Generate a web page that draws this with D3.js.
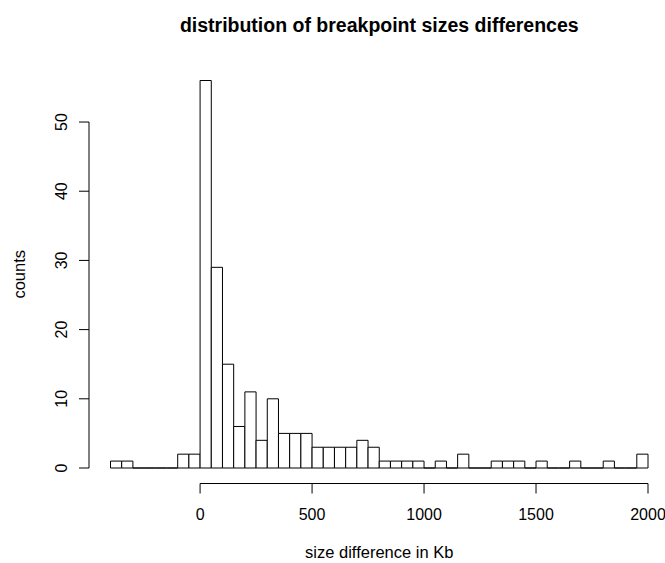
<!DOCTYPE html>
<html>
<head>
<meta charset="utf-8">
<script src="https://cdn.jsdelivr.net/npm/d3@7"></script>
<style>
  html, body { margin: 0; padding: 0; background: #fff; }
  svg text { font-family: "Liberation Sans", Arial, Helvetica, sans-serif; fill: #000; }
</style>
</head>
<body>
<svg id="chart" width="665" height="563"></svg>
<script>
// Histogram of breakpoint size differences (Kb), R-style base graphics look.

// bin edges (Kb), 50 Kb wide
const breaks = [
  -400, -350, -300, -250, -200, -150, -100, -50,
  0, 50, 100, 150, 200, 250, 300, 350, 400, 450,
  500, 550, 600, 650, 700, 750, 800, 850, 900, 950,
  1000, 1050, 1100, 1150, 1200, 1250, 1300, 1350, 1400, 1450,
  1500, 1550, 1600, 1650, 1700, 1750, 1800, 1850, 1900, 1950, 2000
];
// counts per bin
const counts = [
  1, 1, 0, 0, 0, 0, 2, 2,
  56, 29, 15, 6, 11, 4, 10, 5, 5, 5,
  3, 3, 3, 3, 4, 3, 1, 1, 1, 1,
  0, 1, 0, 2, 0, 0, 1, 1, 1, 0,
  1, 0, 0, 1, 0, 0, 1, 0, 0, 2
];
const xTicks = [0, 500, 1000, 1500, 2000];
const yTicks = [0, 10, 20, 30, 40, 50];

const titleText = 'distribution of breakpoint sizes differences';
const xLabel = 'size difference in Kb';
const yLabel = 'counts';

// plot region (runs slightly past the right edge, like the reference)
const PLOT = { left: 89, right: 669.5, top: 65, bottom: 483.5 };

const svg = d3.select('#chart');

// R's default 4% axis expansion
const xMin = d3.min(breaks), xMax = d3.max(breaks);
const xPad = (xMax - xMin) * 0.04;
const yMaxData = d3.max(counts);
const yPad = yMaxData * 0.04;

const x = d3.scaleLinear()
  .domain([xMin - xPad, xMax + xPad])
  .range([PLOT.left, PLOT.right]);
const y = d3.scaleLinear()
  .domain([-yPad, yMaxData + yPad])
  .range([PLOT.bottom, PLOT.top]);

const bins = counts.map((c, i) => ({ x0: breaks[i], x1: breaks[i + 1], n: c }));

// Bars as closed paths so empty bins still leave a line on the baseline
svg.append('g')
  .selectAll('path')
  .data(bins)
  .join('path')
  .attr('d', d => {
    const p = d3.path();
    p.moveTo(x(d.x0), y(0));
    p.lineTo(x(d.x0), y(d.n));
    p.lineTo(x(d.x1), y(d.n));
    p.lineTo(x(d.x1), y(0));
    p.closePath();
    return p.toString();
  })
  .attr('fill', '#fff')
  .attr('stroke', '#000')
  .attr('stroke-width', 1);

// X axis (line only spans first to last tick, R style)
const xAxis = svg.append('g').attr('transform', `translate(0,${PLOT.bottom})`);
xAxis.append('line')
  .attr('x1', x(xTicks[0])).attr('x2', x(xTicks[xTicks.length - 1]))
  .attr('y1', 0).attr('y2', 0)
  .attr('stroke', '#000');
xAxis.selectAll('line.tick')
  .data(xTicks)
  .join('line')
  .attr('class', 'tick')
  .attr('x1', d => x(d)).attr('x2', d => x(d))
  .attr('y1', 0).attr('y2', 10)
  .attr('stroke', '#000');
xAxis.selectAll('text')
  .data(xTicks)
  .join('text')
  .attr('x', d => x(d))
  .attr('y', 36)
  .attr('text-anchor', 'middle')
  .attr('font-size', 16)
  .text(d => d);

// Y axis
const yAxis = svg.append('g').attr('transform', `translate(${PLOT.left},0)`);
yAxis.append('line')
  .attr('x1', 0).attr('x2', 0)
  .attr('y1', y(yTicks[0])).attr('y2', y(yTicks[yTicks.length - 1]))
  .attr('stroke', '#000');
yAxis.selectAll('line.tick')
  .data(yTicks)
  .join('line')
  .attr('class', 'tick')
  .attr('x1', 0).attr('x2', -10)
  .attr('y1', d => y(d)).attr('y2', d => y(d))
  .attr('stroke', '#000');
yAxis.selectAll('text')
  .data(yTicks)
  .join('text')
  .attr('transform', d => `translate(-22,${y(d)}) rotate(-90)`)
  .attr('text-anchor', 'middle')
  .attr('font-size', 16)
  .text(d => d);

// Title and axis labels
svg.append('text')
  .attr('x', (PLOT.left + PLOT.right) / 2)
  .attr('y', 32)
  .attr('text-anchor', 'middle')
  .attr('font-size', 19.5)
  .attr('font-weight', 'bold')
  .text(titleText);

svg.append('text')
  .attr('x', (PLOT.left + PLOT.right) / 2)
  .attr('y', 558)
  .attr('text-anchor', 'middle')
  .attr('font-size', 16.5)
  .text(xLabel);

svg.append('text')
  .attr('transform', `translate(25,${(PLOT.top + PLOT.bottom) / 2}) rotate(-90)`)
  .attr('text-anchor', 'middle')
  .attr('font-size', 16.5)
  .text(yLabel);
</script>
</body>
</html>
